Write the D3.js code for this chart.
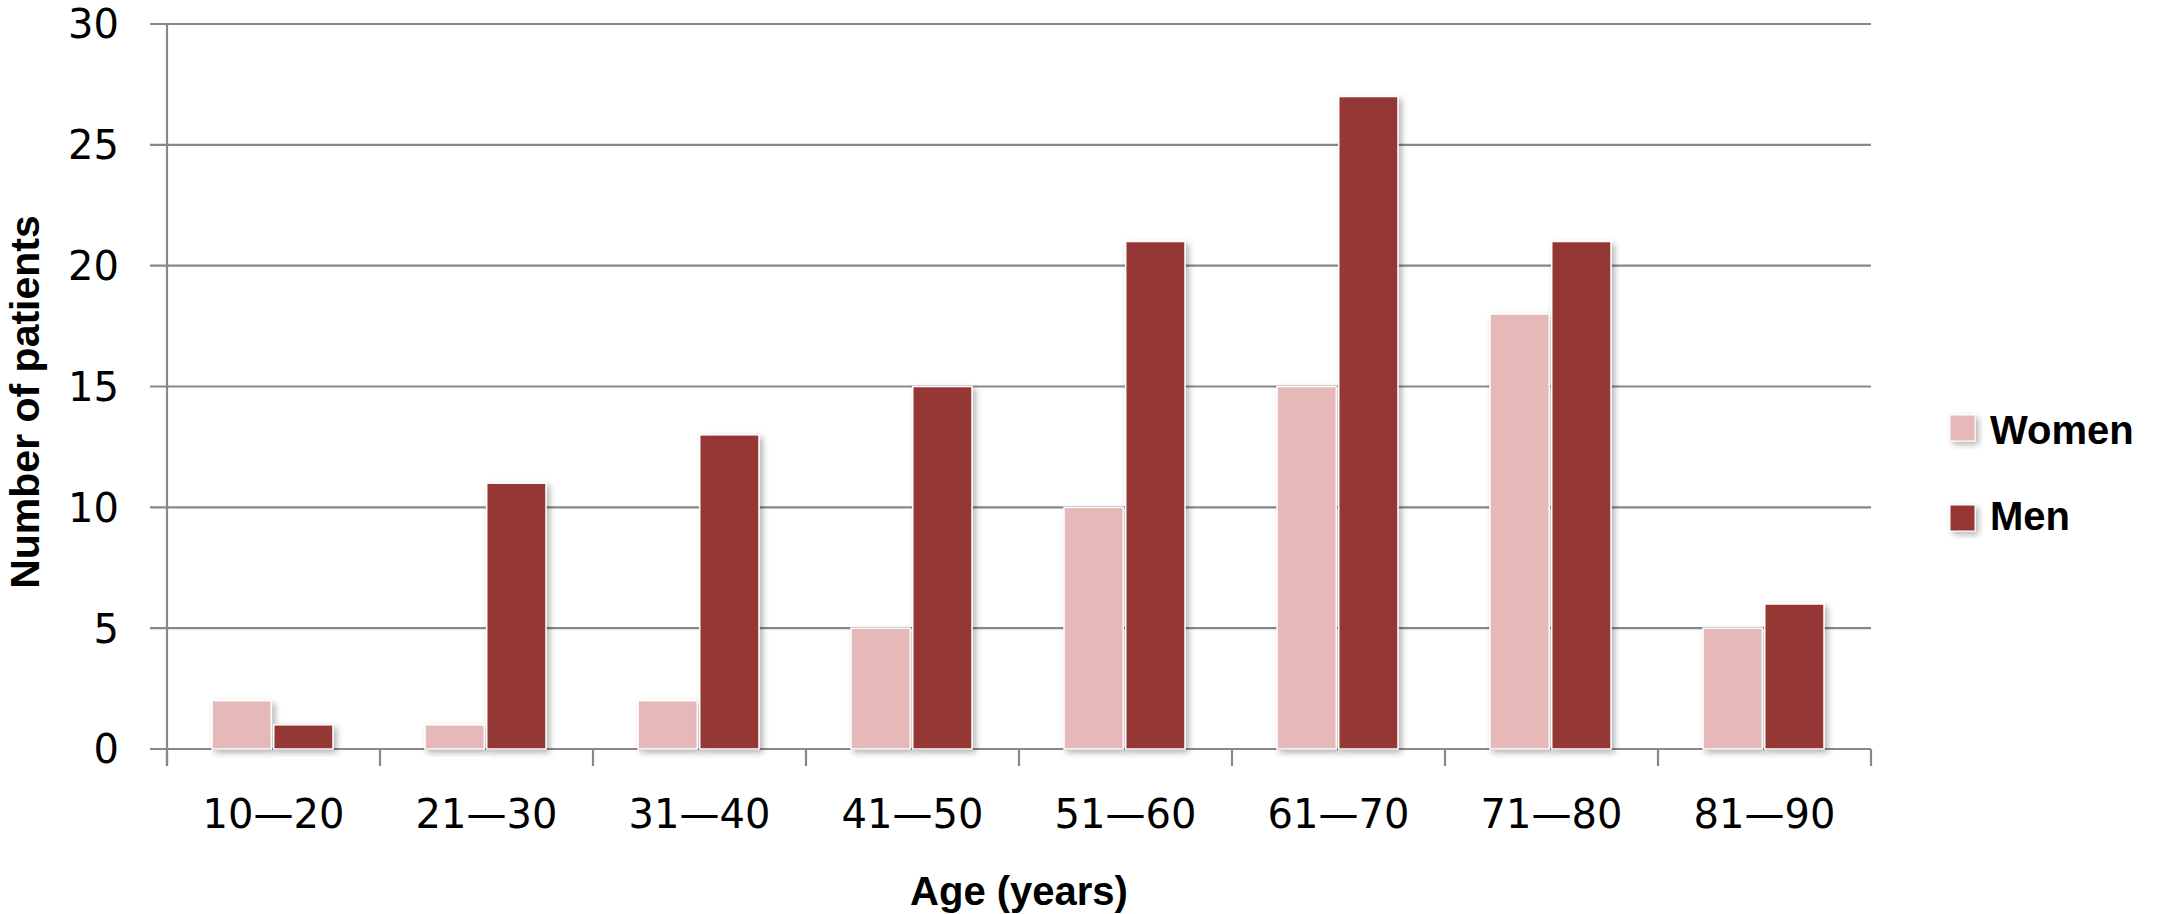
<!DOCTYPE html>
<html>
<head>
<meta charset="utf-8">
<script src="https://cdn.jsdelivr.net/npm/d3@7/dist/d3.min.js"></script>
<style>
  body { margin: 0; background: #fff; }
  svg { display: block; }
</style>
</head>
<body>
<div id="chart"></div>
<script>
var w = 2175,
    h = 914;

//Data
var ageGroups = ["10\u201420", "21\u201430", "31\u201440", "41\u201450", "51\u201460", "61\u201470", "71\u201480", "81\u201490"];
var seriesNames = ["Women", "Men"];
var women = [2, 1, 2, 5, 10, 15, 18, 5];
var men = [1, 11, 13, 15, 21, 27, 21, 6];
var yTicks = [0, 5, 10, 15, 20, 25, 30];

var colors = { Women: "#e6b9b8", Men: "#953735" };

var table = ageGroups.map(function(g, i) {
    return { group: g, Women: women[i], Men: men[i] };
});

//Plot area (note: "top" is taken by window.top)
var plotLeft = 167, plotRight = 1871, plotTop = 24, plotBottom = 749;

var svg = d3.select("#chart")
    .append("svg")
    .attr("width", w)
    .attr("height", h);

//soft shadow under the bars
var filter = svg.append("defs").append("filter")
    .attr("id", "shadow")
    .attr("x", "-20%").attr("y", "-20%")
    .attr("width", "150%").attr("height", "150%");
filter.append("feDropShadow")
    .attr("dx", 3).attr("dy", 3)
    .attr("stdDeviation", 3)
    .attr("flood-color", "#000")
    .attr("flood-opacity", 0.3);

var x0 = d3.scaleBand()
    .domain(ageGroups)
    .range([plotLeft, plotRight])
    .padding(0);

var x1 = d3.scaleBand()
    .domain(seriesNames)
    .range([45, x0.bandwidth() - 47])
    .paddingInner(0.04);

var y = d3.scaleLinear()
    .domain([0, 30])
    .range([plotBottom, plotTop]);

var gridColor = "#888888";

//gridlines + left ticks
svg.append("g")
    .attr("class", "grid")
    .selectAll("line")
    .data(yTicks)
    .enter().append("line")
    .attr("x1", plotLeft - 17)
    .attr("x2", plotRight)
    .attr("y1", function(d) { return y(d); })
    .attr("y2", function(d) { return y(d); })
    .attr("stroke", gridColor)
    .attr("stroke-width", 2.2);

//y axis line
svg.append("line")
    .attr("x1", plotLeft).attr("x2", plotLeft)
    .attr("y1", y(30)).attr("y2", plotBottom + 17)
    .attr("stroke", gridColor)
    .attr("stroke-width", 2.2);

//x axis ticks at the band edges
var edges = ageGroups.map(function(g) { return x0(g); }).concat([plotRight]);
svg.append("g")
    .selectAll("line")
    .data(edges)
    .enter().append("line")
    .attr("x1", function(d) { return d; })
    .attr("x2", function(d) { return d; })
    .attr("y1", plotBottom)
    .attr("y2", plotBottom + 17)
    .attr("stroke", gridColor)
    .attr("stroke-width", 2.2);

//y tick labels
svg.append("g")
    .selectAll("text")
    .data(yTicks)
    .enter().append("text")
    .attr("x", 119)
    .attr("y", function(d) { return y(d); })
    .attr("dy", "0.36em")
    .attr("text-anchor", "end")
    .attr("font-family", "DejaVu Sans")
    .attr("font-size", "40px")
    .attr("fill", "#000")
    .text(function(d) { return d; });

//x tick labels
svg.append("g")
    .selectAll("text")
    .data(ageGroups)
    .enter().append("text")
    .attr("x", function(d) { return x0(d) + x0.bandwidth() / 2; })
    .attr("y", 828)
    .attr("text-anchor", "middle")
    .attr("font-family", "DejaVu Sans")
    .attr("font-size", "40px")
    .attr("fill", "#000")
    .text(function(d) { return d; });

//bars
var groups = svg.append("g")
    .selectAll("g")
    .data(table)
    .enter().append("g")
    .attr("transform", function(d) { return "translate(" + x0(d.group) + ",0)"; });

groups.selectAll("rect")
    .data(function(d) { return seriesNames.map(function(k) { return { key: k, value: d[k] }; }); })
    .enter().append("rect")
    .attr("x", function(d) { return x1(d.key); })
    .attr("y", function(d) { return y(d.value); })
    .attr("width", x1.bandwidth())
    .attr("height", function(d) { return plotBottom - y(d.value); })
    .attr("fill", function(d) { return colors[d.key]; })
    .attr("stroke", "#fff")
    .attr("stroke-width", 1.5)
    .attr("filter", "url(#shadow)");

//axis titles
svg.append("text")
    .attr("x", (plotLeft + plotRight) / 2)
    .attr("y", 905)
    .attr("text-anchor", "middle")
    .attr("font-family", "Liberation Sans, Arial, sans-serif")
    .attr("font-weight", "bold")
    .attr("font-size", "40px")
    .text("Age (years)");

svg.append("text")
    .attr("transform", "translate(39," + 402 + ") rotate(-90)")
    .attr("text-anchor", "middle")
    .attr("font-family", "Liberation Sans, Arial, sans-serif")
    .attr("font-weight", "bold")
    .attr("font-size", "41px")
    .text("Number of patients");

//Legend
var legend = svg.append("g")
    .selectAll("g")
    .data(seriesNames)
    .enter().append("g")
    .attr("transform", function(d, i) { return "translate(1950," + (415 + i * 90) + ")"; });

legend.append("rect")
    .attr("width", 25)
    .attr("height", 26)
    .attr("fill", function(d) { return colors[d]; })
    .attr("stroke", "#fff")
    .attr("stroke-width", 1)
    .attr("filter", "url(#shadow)");

legend.append("text")
    .attr("x", 40)
    .attr("y", function(d, i) { return i == 0 ? 29 : 25; })
    .attr("font-family", "Liberation Sans, Arial, sans-serif")
    .attr("font-weight", "bold")
    .attr("font-size", "40px")
    .text(function(d) { return d; });
</script>
</body>
</html>
